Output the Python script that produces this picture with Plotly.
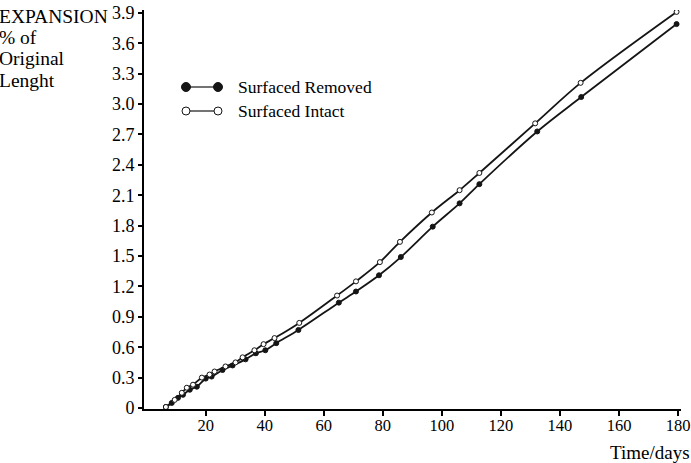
import plotly.graph_objects as go

# Surfaced Intact (open circles)
intact_days = [6.5, 9.5, 11.9, 13.6, 15.7, 18.7, 21.3, 23.0, 26.7, 30.1, 32.5, 36.5, 39.6,
               43.3, 51.7, 64.5, 70.9, 79.0, 85.8, 96.6, 106.0, 112.7, 131.6, 147.0, 179.5]
intact_exp = [0.01, 0.08, 0.15, 0.20, 0.23, 0.30, 0.33, 0.36, 0.41, 0.45, 0.50, 0.57, 0.63,
              0.69, 0.84, 1.11, 1.25, 1.44, 1.64, 1.93, 2.15, 2.32, 2.81, 3.21, 3.91]

# Surfaced Removed (filled circles)
removed_days = [6.5, 8.5, 10.6, 12.3, 14.6, 17.0, 20.0, 22.0, 25.7, 29.1, 33.5, 37.0, 40.2,
                43.9, 51.4, 65.1, 70.9, 78.7, 86.1, 96.9, 106.0, 112.7, 132.3, 147.2, 179.5]
removed_exp = [0.01, 0.05, 0.10, 0.13, 0.18, 0.21, 0.29, 0.31, 0.375, 0.42, 0.48, 0.54, 0.57,
               0.64, 0.77, 1.04, 1.15, 1.31, 1.49, 1.79, 2.02, 2.21, 2.73, 3.07, 3.79]

y_ticks = [0, 0.3, 0.6, 0.9, 1.2, 1.5, 1.8, 2.1, 2.4, 2.7, 3.0, 3.3, 3.6, 3.9]
y_tick_text = ["0", "0.3", "0.6", "0.9", "1.2", "1.5", "1.8", "2.1", "2.4", "2.7", "3.0", "3.3", "3.6", "3.9"]
x_ticks = [20, 40, 60, 80, 100, 120, 140, 160, 180]

FONT = "Liberation Serif, Times New Roman, serif"
INK = "#151515"

fig = go.Figure()
fig.add_trace(go.Scatter(
    x=removed_days, y=removed_exp, mode="lines+markers", name="Surfaced Removed",
    line=dict(color=INK, width=1.8, shape="spline", smoothing=0.9),
    marker=dict(symbol="circle", size=5, color=INK, line=dict(color=INK, width=1)),
))
fig.add_trace(go.Scatter(
    x=intact_days, y=intact_exp, mode="lines+markers", name="Surfaced Intact",
    line=dict(color=INK, width=1.8, shape="spline", smoothing=0.9),
    marker=dict(symbol="circle", size=5, color="white", line=dict(color=INK, width=1)),
))

# manual legend (line with markers at both ends, like the reference)
W, H = 691, 463
L, R, T, B = 144, 10, 10, 54
pw, ph = W - L - R, H - T - B

def px(x):
    return (x - L) / pw

def py(y):
    return 1 - (y - T) / ph

shapes = []
annotations = []
legend_rows = [(87, INK, "Surfaced Removed"), (111, "white", "Surfaced Intact")]
for yy, fill, label in legend_rows:
    shapes.append(dict(type="line", xref="paper", yref="paper",
                       x0=px(186), x1=px(218), y0=py(yy), y1=py(yy),
                       line=dict(color=INK, width=1.2)))
    r = 4.5 if fill == INK else 4
    for cx in (186, 218):
        shapes.append(dict(type="circle", xref="paper", yref="paper",
                           x0=px(cx - r), x1=px(cx + r), y0=py(yy - r), y1=py(yy + r),
                           fillcolor=fill, line=dict(color=INK, width=1)))
    annotations.append(dict(text=label, xref="paper", yref="paper", x=px(236), y=py(yy),
                            xanchor="left", yanchor="middle", showarrow=False,
                            font=dict(family=FONT, size=17.5, color="black")))

title_lines = [("EXPANSION", 16), ("% of", 37), ("Original", 58), ("Lenght", 80)]
for txt, yy in title_lines:
    annotations.append(dict(text=txt, xref="paper", yref="paper",
                            x=px(-3), y=py(yy), xanchor="left", yanchor="middle", align="left",
                            showarrow=False, font=dict(family=FONT, size=19.5, color="black")))
annotations.append(dict(text="Time/days", xref="paper", yref="paper",
                        x=px(692), y=py(452), xanchor="right", yanchor="middle",
                        showarrow=False, font=dict(family=FONT, size=19, color="black")))

fig.update_layout(
    width=W, height=H,
    margin=dict(l=L, r=R, t=T, b=B, pad=0, autoexpand=False),
    paper_bgcolor="white", plot_bgcolor="white",
    showlegend=False,
    shapes=shapes, annotations=annotations,
    font=dict(family=FONT, size=18, color="black"),
)
fig.update_xaxes(range=[-0.9, 181.0], tickvals=x_ticks, ticks="outside", ticklen=5, tickwidth=2,
                 tickcolor="black", showline=True, linecolor="black", linewidth=2,
                 showgrid=False, zeroline=False, tickfont=dict(family=FONT, size=16.5),
                 ticklabeloverflow="allow", automargin=False, ticklabelstandoff=-5)
fig.update_yaxes(range=[-0.01, 3.929], tickvals=y_ticks, ticktext=y_tick_text, ticks="outside",
                 ticklen=4, tickwidth=2, tickcolor="black", showline=True, linecolor="black",
                 linewidth=2, showgrid=False, zeroline=False, tickfont=dict(family=FONT, size=18),
                 ticklabeloverflow="allow", automargin=False)

fig.write_html("out.html")
